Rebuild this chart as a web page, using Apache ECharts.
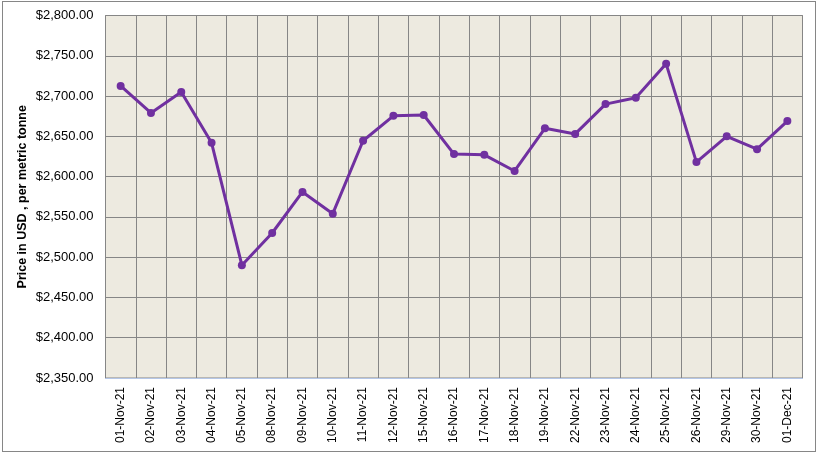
<!DOCTYPE html>
<html>
<head>
<meta charset="utf-8">
<script src="https://cdn.jsdelivr.net/npm/echarts@6/dist/echarts.min.js"></script>
<style>
  html, body { margin: 0; padding: 0; background: #fff; }
  #wrap { position: relative; width: 818px; height: 453px; }
  #chart { width: 818px; height: 453px; }
  #frame { position: absolute; left: 2px; top: 1px; width: 812px; height: 449px;
           border: 1px solid #868686; pointer-events: none; }
</style>
</head>
<body>
<div id="wrap">
  <div id="chart"></div>
  <div id="frame"></div>
</div>
<script>
var dates = ['01-Nov-21', '02-Nov-21', '03-Nov-21', '04-Nov-21', '05-Nov-21', '08-Nov-21',
    '09-Nov-21', '10-Nov-21', '11-Nov-21', '12-Nov-21', '15-Nov-21', '16-Nov-21',
    '17-Nov-21', '18-Nov-21', '19-Nov-21', '22-Nov-21', '23-Nov-21', '24-Nov-21',
    '25-Nov-21', '26-Nov-21', '29-Nov-21', '30-Nov-21', '01-Dec-21']
var prices = [2712.5, 2679, 2705, 2642, 2490, 2530,
    2581, 2554, 2644.5, 2675.5, 2676.5, 2628,
    2627, 2607, 2660, 2653, 2690, 2698,
    2740, 2618, 2650, 2634, 2669]
var yMin = 2350
var yMax = 2800
var yStep = 50

var chartElement = document.getElementById('chart')
var myChart = echarts.init(chartElement)

// dollar format for the price ticks
function fmtPrice(v) {
    var s = v.toFixed(2)
    var parts = s.split('.')
    parts[0] = parts[0].replace(/\B(?=(\d{3})+(?!\d))/g, ',')
    return '$' + parts.join('.')
}

var option = {
    backgroundColor: '#fff',
    animation: false,
    grid: {
        left: 105.5,
        top: 15.5,
        right: 15.5,
        bottom: 75,
        show: true,
        backgroundColor: '#edeae0',
        borderColor: '#868686',
        borderWidth: 1
    },
    xAxis: {
        type: 'category',
        data: dates,
        boundaryGap: true,
        axisLine: { show: true, lineStyle: { color: '#b4c6e7', width: 1 } },
        axisTick: { show: false },
        splitLine: { show: true, interval: 0, lineStyle: { color: '#868686', width: 1 } },
        axisLabel: {
            interval: 0,
            rotate: 90,
            margin: 9,
            color: '#000',
            fontFamily: 'Liberation Sans',
            fontSize: 12
        }
    },
    yAxis: {
        type: 'value',
        min: yMin,
        max: yMax,
        interval: yStep,
        name: 'Price in USD , per metric tonne',
        nameLocation: 'middle',
        nameGap: 76,
        nameMoveOverlap: false,
        nameRotate: 90,
        nameTextStyle: {
            color: '#000',
            fontFamily: 'Liberation Sans',
            fontWeight: 'bold',
            fontSize: 12.5
        },
        axisLine: { show: false },
        axisTick: { show: false },
        splitLine: { show: true, lineStyle: { color: '#868686', width: 1 } },
        axisLabel: {
            margin: 12,
            color: '#000',
            fontFamily: 'Liberation Sans',
            fontSize: 13,
            formatter: fmtPrice
        }
    },
    series: [{
        type: 'line',
        data: prices,
        symbol: 'circle',
        symbolSize: 8,
        lineStyle: { color: '#7030a0', width: 3 },
        itemStyle: { color: '#7030a0' }
    }]
}
myChart.setOption(option)
</script>
</body>
</html>
